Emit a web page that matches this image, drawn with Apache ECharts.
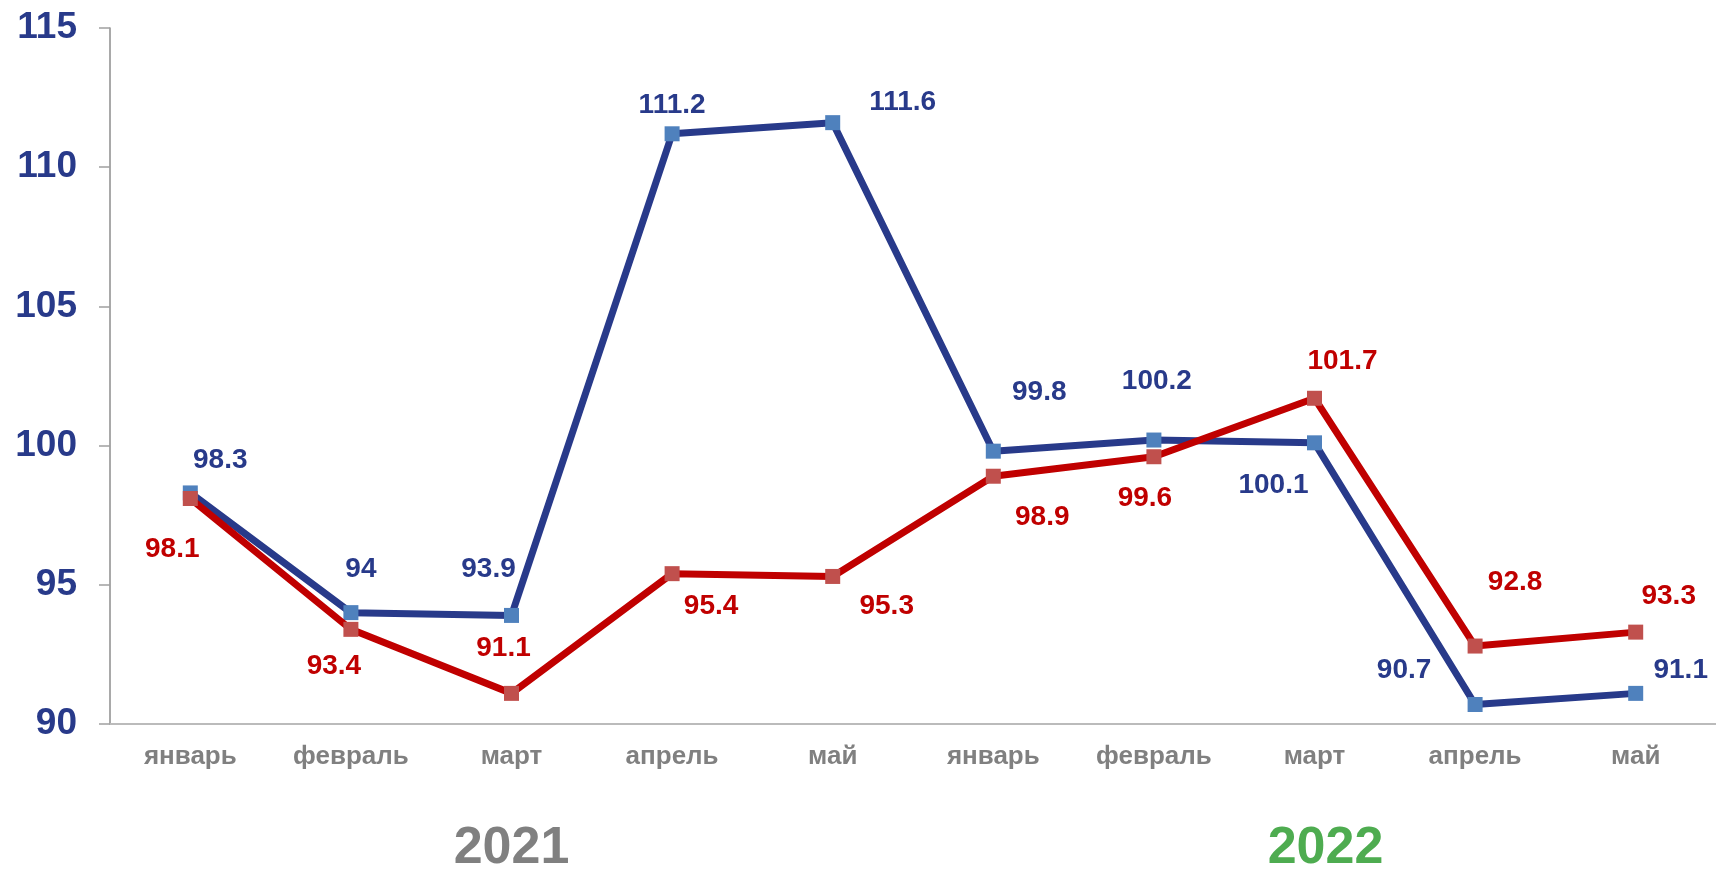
<!DOCTYPE html>
<html><head><meta charset="utf-8">
<script src="https://cdn.jsdelivr.net/npm/echarts@6/dist/echarts.min.js"></script>
<style>html,body{margin:0;padding:0;background:#fff}#c{width:1716px;height:875px}</style>
</head><body><div id="c"></div>
<script>
// ---- data ----
const months = ['январь','февраль','март','апрель','май','январь','февраль','март','апрель','май'];
const yearLabels = ['','','2021','','','','','2022','',''];
const seriesBlue = [98.3, 94, 93.9, 111.2, 111.6, 99.8, 100.2, 100.1, 90.7, 91.1];
const seriesRed = [98.1, 93.4, 91.1, 95.4, 95.3, 98.9, 99.6, 101.7, 92.8, 93.3];
const yMin = 90, yMax = 115, yInterval = 5;

// ---- label layout (pixel offsets from each marker) ----
const blueLabelOffsets = [[30,-33],[10,-43],[-23,-46],[0,-29],[70,-20],[46,-59],[3,-59],[-41,42],[-71,-34],[45,-23]];
const redLabelOffsets = [[-18,51],[-17,37],[-8,-45],[39,33],[54,30],[49,41],[-9,42],[28,-37],[40,-64],[33,-36]];

const FONT = 'Arial, "Liberation Sans", sans-serif';
const NAVY = '#283A8A', RED = '#C00000';

function buildData(values, offsets) {
  return values.map((v, i) => ({ value: v, label: { offset: offsets[i] } }));
}

const chart = echarts.init(document.getElementById('c'), null, { renderer: 'canvas' });
chart.setOption({
  animation: false,
  backgroundColor: '#fff',
  grid: { left: 110, right: 0, top: 28, bottom: 148, containLabel: false },
  xAxis: [
    {
      type: 'category', data: months, boundaryGap: true,
      axisLine: { lineStyle: { color: '#BBBBBB', width: 2 } },
      axisTick: { show: false },
      axisLabel: { color: '#808080', fontFamily: FONT, fontWeight: 'bold', fontSize: 26, margin: 20, interval: 0 },
      splitLine: { show: false }
    },
    {
      type: 'category', data: yearLabels, boundaryGap: true, position: 'bottom', offset: 80,
      axisLine: { show: false }, axisTick: { show: false }, splitLine: { show: false },
      axisLabel: {
        interval: 0, margin: 19,
        formatter: v => v ? '{y' + v + '|' + v + '}' : '',
        rich: {
          y2021: { color: '#808080', fontFamily: FONT, fontWeight: 'bold', fontSize: 52 },
          y2022: { color: '#4EAC50', fontFamily: FONT, fontWeight: 'bold', fontSize: 52, padding: [0, 0, 0, 22] }
        }
      }
    }
  ],
  yAxis: {
    type: 'value', min: yMin, max: yMax, interval: yInterval,
    axisLine: { show: true, lineStyle: { color: '#8C8C8C', width: 1.5 } },
    axisTick: { show: true, inside: false, length: 11, lineStyle: { color: '#A0A0A0', width: 1.5 } },
    axisLabel: { color: NAVY, fontFamily: FONT, fontWeight: 'bold', fontSize: 37, margin: 33 },
    splitLine: { show: false }
  },
  series: [
    {
      name: 'blue', type: 'line', data: buildData(seriesBlue, blueLabelOffsets),
      symbol: 'rect', symbolSize: 15,
      lineStyle: { color: NAVY, width: 7 },
      itemStyle: { color: '#4F81BD' },
      label: { show: true, position: 'inside', color: NAVY, fontFamily: FONT, fontWeight: 'bold', fontSize: 28, align: 'center', verticalAlign: 'middle' },
      z: 2
    },
    {
      name: 'red', type: 'line', data: buildData(seriesRed, redLabelOffsets),
      symbol: 'rect', symbolSize: 15,
      lineStyle: { color: RED, width: 7 },
      itemStyle: { color: '#C0504D' },
      label: { show: true, position: 'inside', color: RED, fontFamily: FONT, fontWeight: 'bold', fontSize: 28, align: 'center', verticalAlign: 'middle' },
      z: 3
    }
  ]
});
</script>
</body></html>
